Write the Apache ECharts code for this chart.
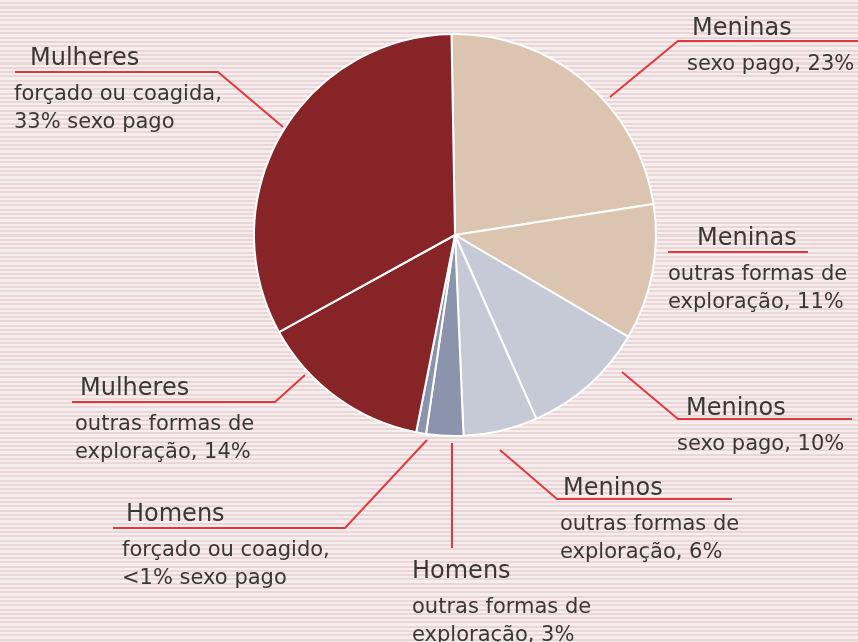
<!DOCTYPE html>
<html>
<head>
<meta charset="utf-8">
<script src="https://cdn.jsdelivr.net/npm/echarts@6/dist/echarts.min.js"></script>
<style>
  html, body { margin: 0; padding: 0; }
  body {
    width: 858px; height: 642px; overflow: hidden;
    background: repeating-linear-gradient(to bottom, #f6eded 0px, #f6eded 2.2px, #ead6d8 2.2px, #ead6d8 4.3px);
  }
  #chart { width: 858px; height: 642px; }
</style>
</head>
<body>
<div id="chart"></div>
<script>
// fatias, no sentido horário a partir do topo
const groups = ['Meninas', 'Meninas', 'Meninos', 'Meninos', 'Homens', 'Homens', 'Mulheres', 'Mulheres'];
const details = [
  'sexo pago, 23%',
  'outras formas de\nexploração, 11%',
  'sexo pago, 10%',
  'outras formas de\nexploração, 6%',
  'outras formas de\nexploração, 3%',
  'forçado ou coagido,\n<1% sexo pago',
  'outras formas de\nexploração, 14%',
  'forçado ou coagida,\n33% sexo pago'
];
const values = [23, 11, 10, 6, 3, 0.8, 14, 33];
const colors = ['#dcc5b0', '#dcc5b0', '#c6cad7', '#c6cad7', '#8b93ad', '#8b93ad', '#862428', '#862428'];

// posição dos rótulos: [x, y, recuo do título], linha guia
const labelPos = [
  [687, 7, 5],
  [668, 217, 29],
  [677, 387, 9],
  [560, 467, 3],
  [412, 550, 0],
  [122, 493, 4],
  [75, 367, 5],
  [14, 37, 16]
];
const guideLines = [
  [[610, 97], [678, 41], [858, 41]],
  [[668, 252], [668, 252], [808, 252]],
  [[622, 372], [678, 419], [852, 419]],
  [[500, 450], [557, 499], [732, 499]],
  [[452, 443], [452, 548], [452, 548]],
  [[427, 440], [345, 528], [113, 528]],
  [[305, 375], [275, 402], [72, 402]],
  [[283, 127], [218, 72], [15, 72]]
];

const chart = echarts.init(document.getElementById('chart'));

const data = values.map((v, i) => ({
  value: v,
  name: groups[i] + ' ' + i,
  itemStyle: { color: colors[i] },
  label: {
    formatter: '{t|' + groups[i] + '}\n' + details[i].split('\n').map(s => '{s|' + s + '}').join('\n'),
    rich: {
      t: { fontSize: 24, lineHeight: 44, color: '#3a3737', fontFamily: 'DejaVu Sans', padding: [0, 0, 0, labelPos[i][2]] },
      s: { fontSize: 21, lineHeight: 28, color: '#3a3737', fontFamily: 'DejaVu Sans' }
    }
  }
}));

const option = {
  backgroundColor: 'transparent',
  animation: false,
  series: [{
    type: 'pie',
    center: [455, 235],
    radius: [0, 201],
    startAngle: 91,
    clockwise: true,
    itemStyle: { borderColor: '#ffffff', borderWidth: 2 },
    label: { show: true, position: 'outside', overflow: 'none', width: 300, edgeDistance: 0 },
    labelLine: { show: true, lineStyle: { color: '#e2393d', width: 2 } },
    labelLayout: function (params) {
      const i = params.dataIndex;
      return {
        x: labelPos[i][0],
        y: labelPos[i][1],
        align: 'left',
        verticalAlign: 'top',
        labelLinePoints: guideLines[i]
      };
    },
    data: data
  }]
};

chart.setOption(option);
</script>
</body>
</html>
